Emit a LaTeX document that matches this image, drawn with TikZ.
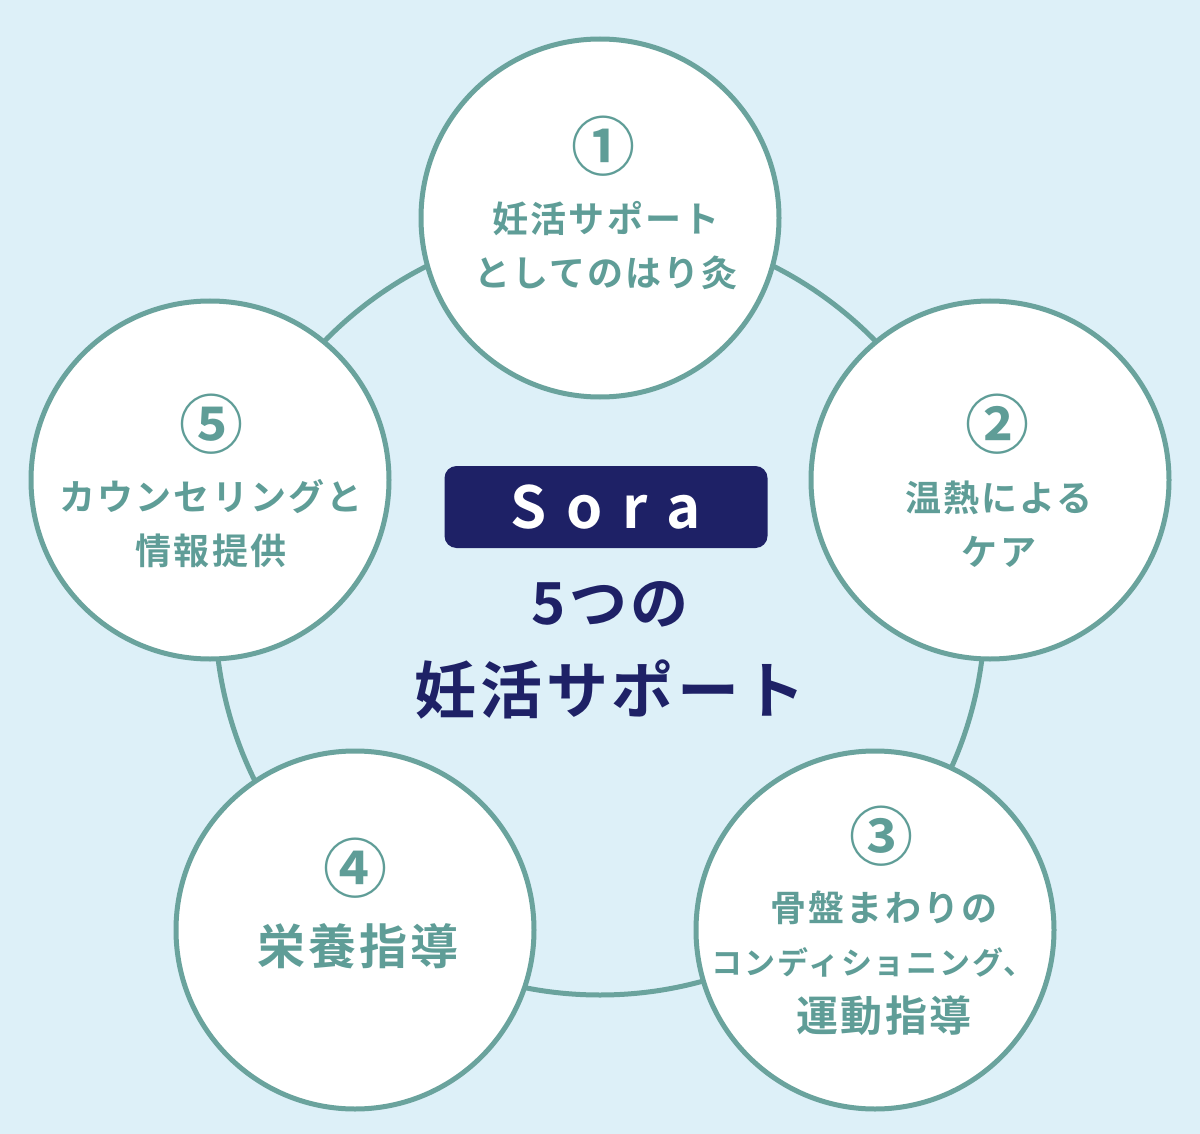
\documentclass[tikz,border=0pt]{standalone}
\usepackage{fontspec}
\newfontfamily\jp{Noto Sans CJK JP Bold}[LetterSpace=6]
\newfontfamily\jpn{Noto Sans CJK JP Bold}
\definecolor{bg}{HTML}{DDF0F8}
\definecolor{teal}{HTML}{6AA39D}
\definecolor{tx}{HTML}{5F9D97}
\definecolor{navy}{HTML}{1E2166}
\begin{document}
\begin{tikzpicture}[x=1pt,y=-1pt,
  sc/.style={circle,draw=teal,line width=5pt,fill=white,minimum size=358pt,inner sep=0pt},
  num/.style={text=tx,font=\jpn\fontsize{64}{64}\selectfont},
  lab/.style={text=tx,align=center,font=\jp\fontsize{36}{54}\selectfont}]
\fill[bg] (0,0) rectangle (1200,1134);
\draw[teal,line width=5pt] (600,610) circle (385);
\node[sc] (c1) at (600,218) {};
\node[sc] (c2) at (990,480) {};
\node[sc] (c3) at (875,930) {};
\node[sc] (c4) at (355,930) {};
\node[sc] (c5) at (210,480) {};
\node[num] (n1) at (603,146) {①};
\node[lab] (l1) at (606,246) {妊活サポート\\としてのはり灸};
\node[num] (n2) at (997,424) {②};
\node[lab] (l2) at (999,524) {温熱による\\ケア};
\node[num] (n3) at (881,836) {③};
\node[lab] (l3a) at (884,908) {骨盤まわりの};
\node[lab,font=\jp\fontsize{31}{31}\selectfont] (l3b) at (873,962) {コンディショニング、};
\node[lab,font=\jp\fontsize{42}{42}\selectfont] (l3c) at (884,1016) {運動指導};
\node[num] (n4) at (355,868) {④};
\node[lab,font=\jp\fontsize{48}{48}\selectfont] (l4) at (358,946) {栄養指導};
\node[num] (n5) at (211,424) {⑤};
\node[lab] (l5) at (211,524) {カウンセリングと\\情報提供};
\node[fill=navy,rounded corners=12pt,minimum width=323pt,minimum height=82pt,text=white,
  font=\jpn\fontsize{58}{58}\selectfont] (sora) at (606,507) {S\,\,o\,\,r\,\,a};
\node[text=navy,font=\jp\fontsize{58}{58}\selectfont] (t1) at (610,604) {5つの};
\node[text=navy,font=\jp\fontsize{62}{62}\selectfont] (t2) at (610,690) {妊活サポート};
\end{tikzpicture}
\end{document}
